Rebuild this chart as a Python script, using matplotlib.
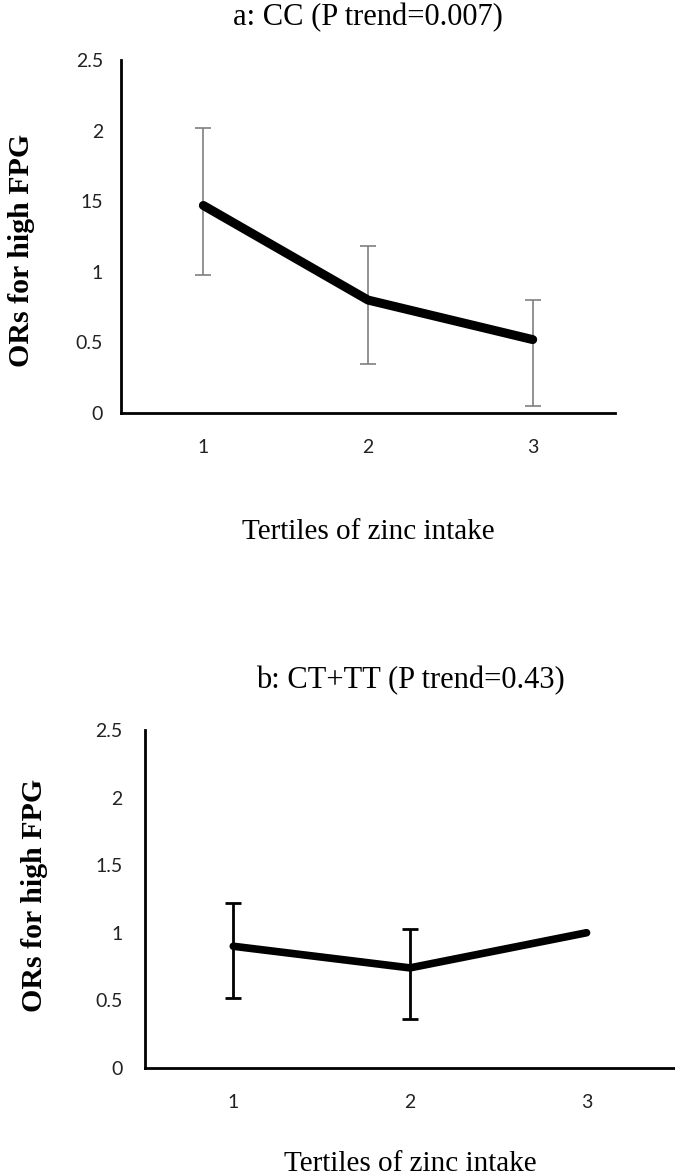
import matplotlib
matplotlib.use("Agg")
import matplotlib.pyplot as plt

# tertiles of zinc intake
tertiles = [1, 2, 3]

# panel a: CC genotype
or_cc = [1.47, 0.80, 0.52]
lo_cc = [0.98, 0.35, 0.05]
hi_cc = [2.02, 1.18, 0.80]

# panel b: CT+TT genotype (reference tertile has no CI)
or_ct = [0.90, 0.74, 1.00]
lo_ct = [0.52, 0.36, 1.00]
hi_ct = [1.22, 1.03, 1.00]

yticks = [0, 0.5, 1, 1.5, 2, 2.5]
ytick_labels_a = ["0", "0.5", "1", "15", "2", "2.5"]
ytick_labels_b = ["0", "0.5", "1", "1.5", "2", "2.5"]

serif = "Liberation Serif"
sans = "Lato"

fig = plt.figure(figsize=(6.75, 11.75), dpi=100)

def draw_panel(rect, title, ors, lo, hi, ylabels, ecolor, elw, lw,
               ylab_x, ylab_y, xlab_y, title_pad, ypad):
    ax = fig.add_axes(rect)
    # only draw bars where there is an interval
    idx = [i for i in range(len(ors)) if hi[i] > lo[i]]
    ax.errorbar([tertiles[i] for i in idx], [ors[i] for i in idx],
                yerr=[[ors[i] - lo[i] for i in idx], [hi[i] - ors[i] for i in idx]],
                fmt="none", ecolor=ecolor, elinewidth=elw, capsize=6, capthick=elw, zorder=2)
    ax.plot(tertiles, ors, color="black", lw=lw, solid_capstyle="round", zorder=3)
    ax.set_xlim(0.5, 3.5)
    ax.set_ylim(0, 2.5)
    ax.set_yticks(yticks)
    ax.set_yticklabels(ylabels, fontfamily=sans, fontsize=14, color="#222222")
    ax.set_xticks(tertiles)
    ax.set_xticklabels([str(t) for t in tertiles], fontfamily=sans, fontsize=14, color="#222222")
    ax.tick_params(axis="x", length=0, pad=19)
    ax.tick_params(axis="y", length=0, pad=ypad)
    for s in ["top", "right"]:
        ax.spines[s].set_visible(False)
    for s in ["left", "bottom"]:
        ax.spines[s].set_linewidth(2)
    ax.set_title(title, fontfamily=serif, fontsize=22, pad=title_pad)
    ax.set_ylabel("ORs for high FPG", fontfamily=serif, fontsize=21.5, fontweight="bold")
    ax.yaxis.set_label_coords(ylab_x, ylab_y)
    ax.set_xlabel("Tertiles of zinc intake", fontfamily=serif, fontsize=21)
    ax.xaxis.set_label_coords(0.5, xlab_y)
    return ax

draw_panel([0.1793, 0.6485, 0.7319, 0.3004], "a: CC (P trend=0.007)",
           or_cc, lo_cc, hi_cc, ytick_labels_a, "#7f7f7f", 1.2, 6.5,
           -0.174, 0.46, -0.30, 25, 13)
draw_panel([0.2148, 0.0911, 0.785, 0.2877], "b: CT+TT (P trend=0.43)",
           or_ct, lo_ct, hi_ct, ytick_labels_b, "black", 2, 5.5,
           -0.183, 0.51, -0.245, 30, 16)

fig.savefig("out.png", dpi=100, facecolor="white")
